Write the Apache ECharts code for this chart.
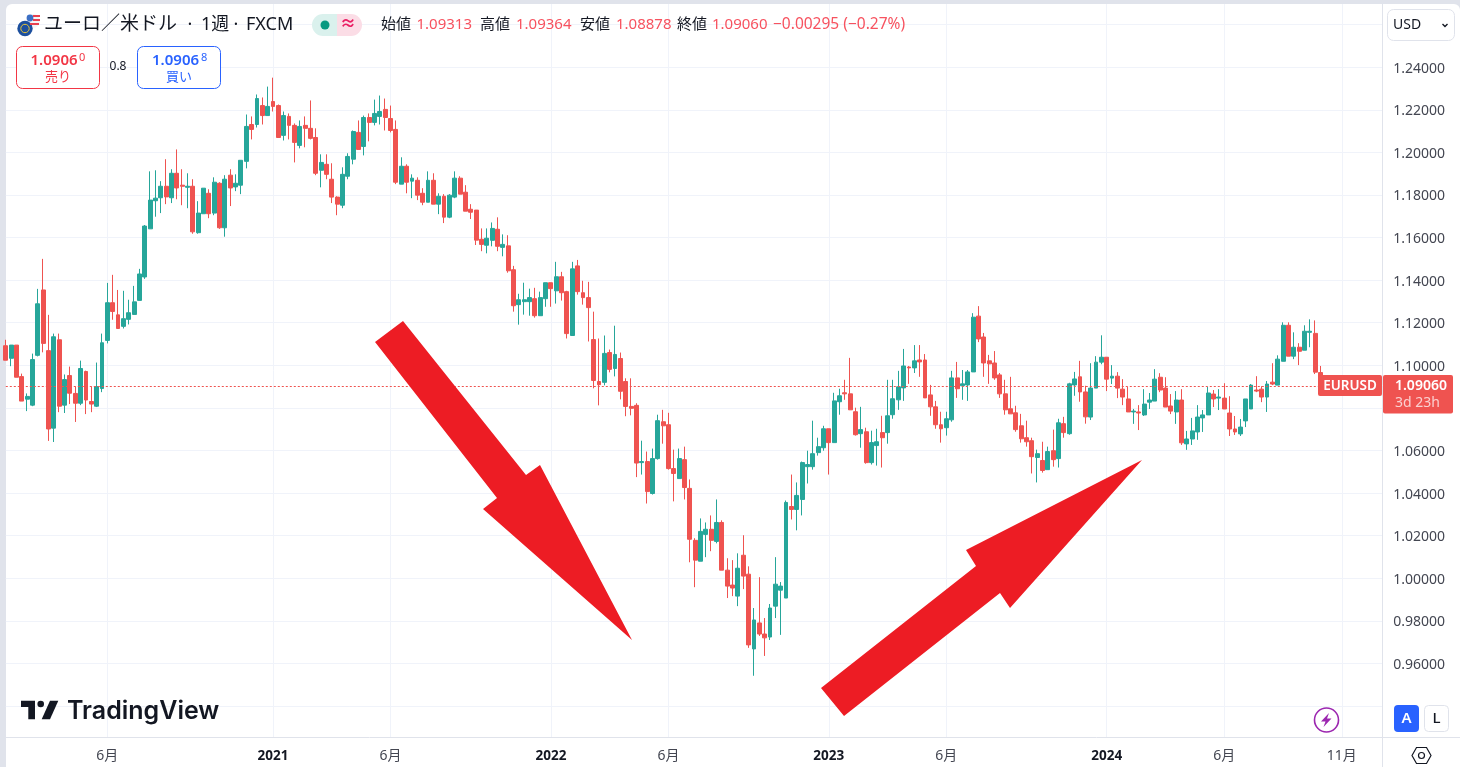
<!DOCTYPE html>
<html lang="ja">
<head>
<meta charset="utf-8">
<title>EURUSD</title>
<script src="https://cdn.jsdelivr.net/npm/echarts@6/dist/echarts.min.js"></script>
<style>
html,body{margin:0;padding:0;width:1460px;height:767px;overflow:hidden;background:#e0e3eb}
#panel{position:absolute;left:6px;top:4px;width:1454px;height:763px;background:#fff;border-radius:6px 6px 0 0}
#chart{position:absolute;left:0;top:0;width:1460px;height:767px}
</style>
</head>
<body>
<div id="panel"></div>
<div id="chart"></div>
<script>
const firstWeek = '2020-01-20';
const axisStart = '2020-01-20';
const axisEnd = '2024-12-27';
const xTickDates = ['2020-06-01','2021-01-04','2021-06-07','2022-01-03','2022-06-06','2023-01-02','2023-06-05','2024-01-01','2024-06-03','2024-11-04'];
const xTickLabels = ['6月','2021','6月','2022','6月','2023','6月','2024','6月','11月'];
const yLabelValues = [0.96,0.98,1.00,1.02,1.04,1.06,1.08,1.10,1.12,1.14,1.16,1.18,1.20,1.22,1.24];
const yGridValues = [0.94,0.96,0.98,1.00,1.02,1.04,1.06,1.08,1.10,1.12,1.14,1.16,1.18,1.20,1.22,1.24,1.26];
const lastPrice = 1.0906;

const opens = [
1.1092,1.1033,1.1095,1.0947,1.0841,1.0813,1.1047,1.1354,1.1069,1.0705,
1.1120,1.0813,1.0952,1.0868,1.0822,1.0971,1.0830,1.0808,1.0891,1.1117,
1.1294,1.1237,1.1183,1.1216,1.1239,1.1305,1.1415,1.1641,1.1773,1.1787,
1.1841,1.1787,1.1902,1.1846,1.1836,1.1841,1.1623,1.1712,1.1808,1.1715,
1.1855,1.1646,1.1893,1.1838,1.1846,1.1958,1.2131,1.2131,1.2220,1.2173,
1.2239,1.2220,1.2080,1.2169,1.2127,1.2033,1.2127,1.2113,1.2070,1.1916,
1.1944,1.1874,1.1790,1.1752,1.1888,1.1968,1.2094,1.2028,1.2164,1.2141,
1.2169,1.2202,1.2159,1.2108,1.1851,1.1935,1.1865,1.1869,1.1808,1.1766,
1.1869,1.1757,1.1794,1.1696,1.1790,1.1879,1.1813,1.1733,1.1729,1.1592,
1.1564,1.1587,1.1639,1.1554,1.1561,1.1449,1.1285,1.1299,1.1299,1.1313,
1.1233,1.1313,1.1388,1.1350,1.1416,1.1346,1.1140,1.1467,1.1341,1.1318,
1.1121,1.0924,1.0920,1.1060,1.0985,1.1032,1.0924,1.0807,1.0812,1.0543,
1.0548,1.0398,1.0562,1.0735,1.0721,1.0515,1.0468,1.0557,1.0422,1.0178,
1.0080,1.0206,1.0230,1.0173,1.0262,1.0038,0.9968,0.9916,1.0108,1.0019,
0.9668,0.9790,0.9738,0.9724,0.9869,0.9944,0.9907,1.0337,1.0323,1.0370,
1.0524,1.0524,1.0590,1.0613,1.0702,1.0637,1.0829,1.0871,1.0866,1.0782,
1.0679,1.0688,1.0543,1.0623,1.0684,1.0684,1.0768,1.0838,1.0894,1.0992,
1.0988,1.1025,1.1025,1.0861,1.0805,1.0721,1.0707,1.0744,1.0941,1.0904,
1.0908,1.0969,1.1231,1.1133,1.1021,1.1011,1.0955,1.0866,1.0796,1.0777,
1.0716,1.0660,1.0646,1.0567,1.0553,1.0510,1.0599,1.0562,1.0726,1.0679,
1.0908,1.0946,1.0875,1.0757,1.0893,1.1015,1.1038,1.0940,1.0949,1.0888,
1.0842,1.0781,1.0781,1.0767,1.0827,1.0832,1.0944,1.0893,1.0809,1.0781,
1.0837,1.0631,1.0654,1.0687,1.0753,1.0767,1.0865,1.0846,1.0846,1.0776,
1.0701,1.0678,1.0739,1.0795,1.0884,1.0888,1.0851,1.0921,1.0907,1.1019,
1.1188,1.1043,1.1085,1.1071,1.1155,1.1150,1.0966,1.09313];
const highs = [
1.1120,1.1095,1.1095,1.0961,1.0868,1.1055,1.1359,1.1500,1.1237,1.1149,
1.1149,1.0957,1.0994,1.0900,1.1022,1.0975,1.0900,1.1013,1.1149,1.1387,
1.1425,1.1354,1.1350,1.1308,1.1373,1.1453,1.1659,1.1911,1.1916,1.1865,
1.1968,1.1921,1.2014,1.1921,1.1902,1.1874,1.1771,1.1832,1.1827,1.1883,
1.1860,1.1893,1.1921,1.1897,1.1963,1.2178,1.2169,1.2272,1.2258,1.2309,
1.2351,1.2225,1.2192,1.2183,1.2136,1.2150,1.2169,1.2244,1.2113,1.1991,
1.1991,1.1949,1.1794,1.1930,1.1996,1.2103,1.2150,1.2173,1.2183,1.2248,
1.2267,1.2253,1.2220,1.2150,1.1977,1.1944,1.1897,1.1883,1.1832,1.1911,
1.1902,1.1808,1.1804,1.1804,1.1911,1.1888,1.1846,1.1757,1.1729,1.1643,
1.1643,1.1671,1.1695,1.1615,1.1611,1.1467,1.1336,1.1388,1.1360,1.1364,
1.1346,1.1388,1.1388,1.1486,1.1439,1.1350,1.1486,1.1495,1.1397,1.1392,
1.1252,1.1126,1.1140,1.1074,1.1186,1.1060,1.0939,1.0939,1.0822,1.0646,
1.0595,1.0609,1.0768,1.0791,1.0777,1.0604,1.0609,1.0618,1.0464,1.0188,
1.0281,1.0262,1.0295,1.0370,1.0272,1.0094,1.0085,1.0117,1.0202,1.0056,
0.9860,1.0005,0.9813,0.9879,1.0099,0.9982,1.0365,1.0487,1.0450,1.0548,
1.0599,1.0740,1.0660,1.0716,1.0702,1.0871,1.0890,1.0932,1.1035,1.0801,
1.0805,1.0707,1.0693,1.0702,1.0763,1.0932,1.0932,1.0974,1.1077,1.0997,
1.1095,1.1095,1.1053,1.0908,1.0833,1.0782,1.0782,1.0974,1.1016,1.0978,
1.0978,1.1245,1.1278,1.1152,1.1049,1.1067,1.0964,1.0932,1.0946,1.0810,
1.0772,1.0740,1.0660,1.0604,1.0641,1.0618,1.0698,1.0749,1.0758,1.0918,
1.0969,1.1021,1.0904,1.1010,1.1043,1.1141,1.1038,1.1001,1.0968,1.0935,
1.0898,1.0795,1.0813,1.0888,1.0870,1.0982,1.0963,1.0944,1.0865,1.0879,
1.0888,1.0692,1.0753,1.0813,1.0790,1.0898,1.0884,1.0888,1.0916,1.0855,
1.0762,1.0748,1.0842,1.0912,1.0949,1.0902,1.0926,1.1010,1.1047,1.1202,
1.1202,1.1155,1.1104,1.1188,1.1216,1.1211,1.0997,1.09364];
const lows = [
1.1024,1.0996,1.0944,1.0832,1.0785,1.0808,1.1042,1.1061,1.0645,1.0640,
1.0780,1.0776,1.0818,1.0734,1.0813,1.0771,1.0780,1.0804,1.0874,1.1103,
1.1214,1.1173,1.1173,1.1192,1.1239,1.1305,1.1406,1.1641,1.1698,1.1715,
1.1757,1.1762,1.1780,1.1752,1.1738,1.1618,1.1618,1.1712,1.1691,1.1705,
1.1641,1.1604,1.1748,1.1818,1.1804,1.1925,1.2061,1.2117,1.2131,1.2173,
1.2192,1.2070,1.2056,1.2061,1.1953,1.2019,1.2024,1.2061,1.1893,1.1836,
1.1874,1.1762,1.1705,1.1738,1.1874,1.1944,1.2014,1.1986,1.2052,1.2127,
1.2131,1.2103,1.2094,1.1851,1.1851,1.1808,1.1785,1.1776,1.1752,1.1766,
1.1757,1.1710,1.1668,1.1691,1.1785,1.1804,1.1724,1.1687,1.1565,1.1536,
1.1526,1.1559,1.1536,1.1512,1.1435,1.1252,1.1191,1.1238,1.1233,1.1224,
1.1233,1.1275,1.1275,1.1290,1.1304,1.1126,1.1140,1.1332,1.1285,1.1112,
1.0892,1.0812,1.0906,1.0967,1.0948,1.0840,1.0761,1.0765,1.0475,1.0487,
1.0351,1.0393,1.0557,1.0632,1.0510,1.0361,1.0468,1.0370,1.0075,0.9958,
1.0080,1.0099,1.0127,1.0164,1.0038,0.9907,0.9916,0.9869,0.9949,0.9673,
0.9542,0.9729,0.9635,0.9710,0.9813,0.9734,0.9907,1.0276,1.0225,1.0295,
1.0445,1.0510,1.0576,1.0599,1.0487,1.0637,1.0768,1.0838,1.0791,1.0670,
1.0613,1.0538,1.0534,1.0529,1.0520,1.0632,1.0749,1.0791,1.0833,1.0913,
1.0964,1.0946,1.0847,1.0763,1.0702,1.0637,1.0670,1.0735,1.0847,1.0838,
1.0833,1.0969,1.1109,1.0946,1.0913,1.0932,1.0847,1.0768,1.0772,1.0688,
1.0637,1.0618,1.0492,1.0450,1.0496,1.0510,1.0524,1.0520,1.0660,1.0674,
1.0857,1.0829,1.0726,1.0743,1.0893,1.1005,1.0879,1.0912,1.0846,1.0813,
1.0781,1.0725,1.0696,1.0762,1.0795,1.0832,1.0874,1.0804,1.0771,1.0725,
1.0626,1.0603,1.0626,1.0650,1.0687,1.0767,1.0804,1.0790,1.0795,1.0668,
1.0673,1.0668,1.0710,1.0795,1.0874,1.0827,1.0781,1.0907,1.0907,1.1019,
1.1043,1.1029,1.1001,1.1071,1.1085,1.0959,1.0900,1.08878];
const closes = [
1.1024,1.1095,1.0944,1.0832,1.0854,1.1027,1.1289,1.1103,1.0701,1.1134,
1.0808,1.0933,1.0869,1.0822,1.0985,1.0837,1.0818,1.0900,1.1106,1.1294,
1.1253,1.1173,1.1219,1.1247,1.1298,1.1429,1.1654,1.1776,1.1785,1.1841,
1.1791,1.1902,1.1833,1.1841,1.1841,1.1627,1.1715,1.1832,1.1712,1.1860,
1.1646,1.1874,1.1833,1.1855,1.1963,1.2122,1.2108,1.2253,1.2173,1.2216,
1.2216,1.2070,1.2173,1.2127,1.2047,1.2122,1.2113,1.2066,1.1902,1.1953,
1.1897,1.1790,1.1757,1.1897,1.1981,1.2098,1.2014,1.2164,1.2141,1.2183,
1.2192,1.2164,1.2103,1.1860,1.1935,1.1860,1.1879,1.1799,1.1766,1.1869,
1.1757,1.1794,1.1696,1.1799,1.1879,1.1804,1.1724,1.1719,1.1588,1.1568,
1.1597,1.1643,1.1559,1.1568,1.1444,1.1280,1.1308,1.1308,1.1318,1.1233,
1.1318,1.1388,1.1360,1.1416,1.1341,1.1149,1.1453,1.1346,1.1318,1.1271,
1.0929,1.0909,1.1056,1.0981,1.1051,1.0878,1.0807,1.0798,1.0541,1.0548,
1.0407,1.0562,1.0740,1.0716,1.0515,1.0492,1.0562,1.0426,1.0183,1.0085,
1.0220,1.0230,1.0178,1.0262,1.0038,0.9963,0.9954,1.0047,1.0010,0.9687,
0.9804,0.9738,0.9720,0.9860,0.9972,0.9963,1.0356,1.0323,1.0389,1.0543,
1.0534,1.0585,1.0618,1.0702,1.0637,1.0833,1.0857,1.0866,1.0791,1.0674,
1.0698,1.0543,1.0637,1.0641,1.0660,1.0763,1.0843,1.0899,1.0997,1.0988,
1.1021,1.1016,1.0847,1.0805,1.0721,1.0702,1.0749,1.0941,1.0890,1.0913,
1.0969,1.1226,1.1124,1.1011,1.1007,1.0941,1.0866,1.0791,1.0772,1.0698,
1.0655,1.0641,1.0571,1.0585,1.0506,1.0595,1.0557,1.0730,1.0684,1.0913,
1.0936,1.0875,1.0758,1.0893,1.1015,1.1038,1.0935,1.0949,1.0893,1.0851,
1.0781,1.0785,1.0776,1.0818,1.0837,1.0935,1.0884,1.0804,1.0785,1.0837,
1.0636,1.0654,1.0692,1.0757,1.0767,1.0870,1.0842,1.0851,1.0795,1.0701,
1.0687,1.0710,1.0842,1.0907,1.0879,1.0851,1.0912,1.0912,1.1029,1.1188,
1.1043,1.1085,1.1066,1.1160,1.1160,1.0968,1.0936,1.09060];

const FONT = '"Noto Sans","Noto Sans CJK JP",sans-serif';
const UP = '#26a69a', DOWN = '#ef5350', INK = '#131722', RULE = '#e0e3eb', GRID = '#f0f3fa';
const WEEK = 7 * 24 * 3600 * 1000;
const ms = s => new Date(s + 'T00:00:00Z').getTime();
const start = ms(firstWeek);
const rows = opens.map((o, i) => [start + i * WEEK, o, closes[i], lows[i], highs[i]]);
const xTicks = xTickDates.map(ms);
function xLabelFor(v) {
  let best = 0;
  xTicks.forEach((t, i) => { if (Math.abs(t - v) < Math.abs(xTicks[best] - v)) best = i; });
  return xTickLabels[best];
}

function text(t, x, y, size, fill, extra) {
  return {
    type: 'text', z: 50, silent: true,
    style: {
      text: t, x: x, y: y, fill: fill,
      font: (extra && extra.weight ? extra.weight + ' ' : '') + size + 'px ' + ((extra && extra.family) || FONT),
      align: (extra && extra.align) || 'left', verticalAlign: 'middle'
    }
  };
}
function rect(x, y, w, h, fill, stroke, r, z) {
  return { type: 'rect', z: z || 40, silent: true, shape: { x, y, width: w, height: h, r: r || 0 },
    style: { fill: fill || 'transparent', stroke: stroke || null, lineWidth: stroke ? 1 : 0 } };
}
function line(x1, y1, x2, y2, color) {
  return { type: 'line', z: 30, silent: true, shape: { x1, y1, x2, y2 }, style: { stroke: color, lineWidth: 1 } };
}
function poly(points, fill, z) {
  return { type: 'polygon', z: z || 45, silent: true, shape: { points }, style: { fill } };
}
function circle(cx, cy, r, fill, stroke, lw) {
  return { type: 'circle', z: 46, silent: true, shape: { cx, cy, r },
    style: { fill: fill || 'transparent', stroke: stroke || null, lineWidth: lw || 0 } };
}

const sellRed = '#f23645', buyBlue = '#2962ff', ohlcRed = '#f7525f';
const overlay = [
  line(1382.5, 4, 1382.5, 767, RULE),
  line(6, 737.5, 1460, 737.5, RULE),
  // hand-drawn annotation arrows
  poly([[375,342],[403,321],[526,475],[540,465],[632,640],[483,509],[497,498]], '#ed1c24'),
  poly([[821,688],[976,566],[966,550],[1142,460],[1010,608],[1000,593],[844,716]], '#ed1c24'),
  // symbol icon
  circle(33, 21, 7, '#f4f4f6'),
  rect(33, 15, 7, 2, '#e8404f', null, 0, 47), rect(33, 19, 7, 2, '#e8404f', null, 0, 47), rect(30, 23, 9, 2, '#e8404f', null, 0, 47),
  circle(30, 18, 3.4, '#3c6fc4'),
  circle(25, 28.5, 7.7, '#1c4f9e'),
  circle(25, 28.5, 4.2, null, '#e3c23a', 1),
  text('ユーロ／米ドル', 44, 25, 19, INK),
  text('·', 190, 25, 18, INK, { align: 'center' }),
  text('1週', 201, 25, 18, INK),
  text('·', 236, 25, 18, INK, { align: 'center' }),
  text('FXCM', 246, 25, 18, INK),
  // market status pill
  { type: 'rect', z: 40, silent: true, shape: { x: 312, y: 14, width: 26, height: 22, r: [11, 0, 0, 11] }, style: { fill: '#daf1ed' } },
  { type: 'rect', z: 40, silent: true, shape: { x: 337, y: 14, width: 25, height: 22, r: [0, 11, 11, 0] }, style: { fill: '#fbdde6' } },
  circle(325, 25, 4.5, '#089981'),
  text('≈', 348, 24, 16, '#e91e63', { align: 'center', weight: 700 }),
  // OHLC legend
  text('始値', 381, 25, 15, INK), text('1.09313', 416.5, 25, 15, ohlcRed),
  text('高値', 480, 25, 15, INK), text('1.09364', 516, 25, 15, ohlcRed),
  text('安値', 580, 25, 15, INK), text('1.08878', 616, 25, 15, ohlcRed),
  text('終値', 677, 25, 15, INK), text('1.09060', 712, 25, 15, ohlcRed),
  text('−0.00295 (−0.27%)', 773, 25, 15.5, ohlcRed),
  // sell / buy
  rect(16.5, 46.5, 83, 42, '#fff', sellRed, 6),
  text('1.0906', 30.5, 61, 15, sellRed, { weight: 600 }), text('0', 79, 58, 11, sellRed),
  text('売り', 58, 77, 13, sellRed, { align: 'center' }),
  text('0.8', 118, 67, 12, INK, { align: 'center' }),
  rect(137.5, 46.5, 83, 42, '#fff', buyBlue, 6),
  text('1.0906', 152, 61, 15, buyBlue, { weight: 600 }), text('8', 201, 58, 11, buyBlue),
  text('買い', 179, 77, 13, buyBlue, { align: 'center' }),
  // currency select
  rect(1387.5, 9.5, 67, 31, '#fff', RULE, 6),
  text('USD', 1393, 25.5, 14, INK),
  { type: 'polyline', z: 46, silent: true, shape: { points: [[1442.5,24],[1445,26.5],[1447.5,24]] }, style: { stroke: INK, fill: null, lineWidth: 1.4 } },
  // last price tags
  rect(1318, 375, 64, 21, DOWN, null, 2),
  text('EURUSD', 1350, 386, 13.5, '#fff', { align: 'center', weight: 600 }),
  rect(1383, 375, 70, 38.5, DOWN, null, 2),
  text('1.09060', 1395, 386, 14, '#fff', { weight: 600 }),
  text('3d 23h', 1395, 403, 14, '#fbd0d0'),
  // TradingView mark
  poly([[21,700.7],[35,700.7],[35,719.3],[28.3,719.3],[28.3,707],[21,707]], INK),
  circle(40.7, 704, 3.3, INK),
  poly([[50,700.7],[58.3,700.7],[50,719.3],[41.7,719.3]], INK),
  text('TradingView', 67, 711, 25, INK, { weight: 600, family: 'Inter,"Noto Sans",sans-serif' }),
  // power icon
  circle(1326.5, 720, 12, null, '#9c27b0', 1.6),
  poly([[1329,713],[1321,721.5],[1325.5,721.5],[1323.5,727],[1331.5,718.5],[1327,718.5]], '#9c27b0'),
  // auto / log buttons
  rect(1394, 705, 25, 27, buyBlue, null, 4),
  text('A', 1406.5, 719, 15, '#fff', { align: 'center', weight: 600 }),
  rect(1424.5, 705.5, 24, 26, '#fff', RULE, 4),
  text('L', 1436.5, 719, 15, INK, { align: 'center', weight: 500 }),
  // settings hexagon
  { type: 'polygon', z: 46, silent: true, shape: { points: [[1412,755.5],[1416.5,747.5],[1426.5,747.5],[1431,755.5],[1426.5,763.5],[1416.5,763.5]] }, style: { fill: null, stroke: INK, lineWidth: 1.2 } },
  circle(1421.5, 755.5, 3, null, INK, 1.2)
];

const chart = echarts.init(document.getElementById('chart'), null, { renderer: 'canvas', width: 1460, height: 767 });
chart.setOption({
  animation: false,
  backgroundColor: 'transparent',
  textStyle: { fontFamily: FONT },
  grid: { left: 5.8, right: 77.7, top: 4, bottom: 29.5, containLabel: false },
  xAxis: {
    type: 'value', scale: true, min: ms(axisStart), max: ms(axisEnd),
    axisLine: { show: false },
    axisTick: { show: false, customValues: xTicks },
    splitLine: { show: true, lineStyle: { color: GRID, width: 1 } },
    axisLabel: {
      customValues: xTicks, margin: 12, hideOverlap: false,
      color: '#434651', fontSize: 14, fontFamily: FONT,
      formatter: v => {
        const s = xLabelFor(v);
        return /^\d{4}$/.test(s) ? '{y|' + s + '}' : s;
      },
      rich: { y: { color: INK, fontWeight: 700, fontSize: 13.5, fontFamily: FONT } }
    }
  },
  yAxis: {
    type: 'value', position: 'right', scale: true, min: 0.9252, max: 1.2697,
    axisLine: { show: false },
    axisTick: { show: false, customValues: yGridValues },
    splitLine: { show: true, lineStyle: { color: GRID, width: 1 } },
    axisLabel: {
      customValues: yLabelValues, margin: 11,
      color: '#434651', fontSize: 14, fontFamily: FONT,
      formatter: v => '{v|' + Number(v).toFixed(5) + '}',
      rich: { v: { color: '#434651', fontSize: 14, fontFamily: FONT, padding: [3, 0, 0, 0] } }
    }
  },
  series: [{
    type: 'candlestick', name: 'EURUSD', barWidth: 4.4, clip: true,
    encode: { x: 0, y: [1, 2, 3, 4] },
    data: rows,
    itemStyle: { color: UP, color0: DOWN, borderColor: UP, borderColor0: DOWN, borderColorDoji: DOWN, borderWidth: 1 },
    markLine: {
      silent: true, symbol: 'none', animation: false, label: { show: false },
      lineStyle: { color: DOWN, width: 1, type: [2, 2] },
      data: [{ yAxis: lastPrice }]
    }
  }],
  graphic: { elements: overlay }
});
</script>
</body>
</html>
